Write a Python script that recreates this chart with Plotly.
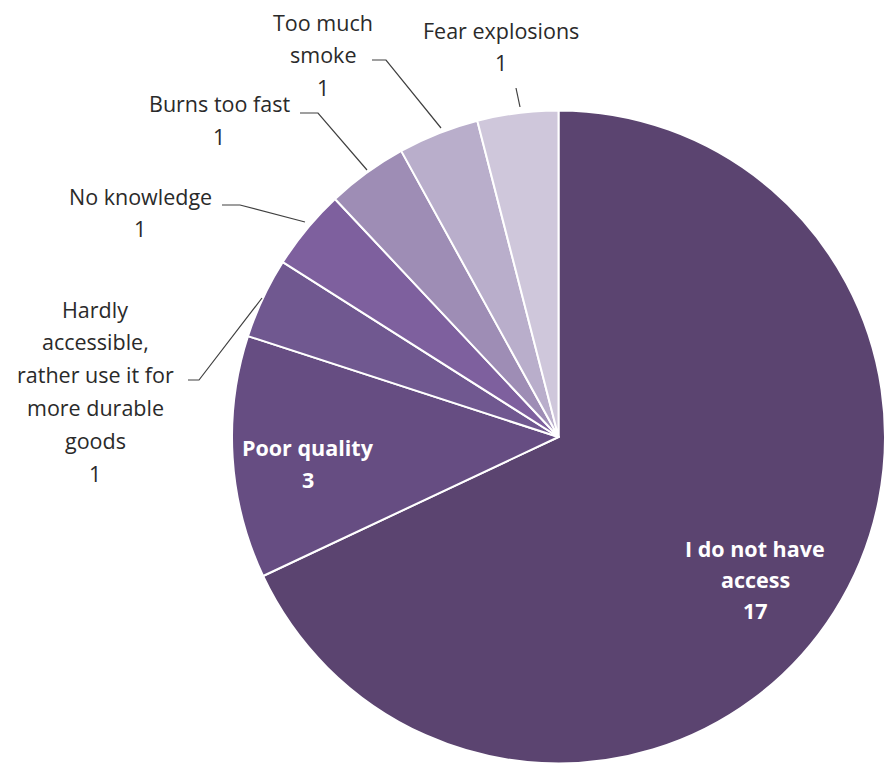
import plotly.graph_objects as go

W, H = 885, 767

categories = ["I do not have access", "Poor quality",
              "Hardly accessible, rather use it for more durable goods",
              "No knowledge", "Burns too fast", "Too much smoke", "Fear explosions"]
values = [17, 3, 1, 1, 1, 1, 1]
colors = ["#5B4470", "#664D82", "#705890", "#7E609E", "#9E8DB5", "#B9AECB", "#CFC7DB"]

fig = go.Figure(go.Pie(
    labels=categories, values=values, sort=False, direction="clockwise", rotation=0,
    marker=dict(colors=colors, line=dict(color="white", width=2)),
    textinfo="none", hoverinfo="label+value", showlegend=False,
    domain=dict(x=[232 / W, 1.0], y=[0.0, 660 / H]),
))

def px(x): return x / W
def py(y): return 1 - y / H

def label(lines, cx, y0, step=32.5, color="#2a2a2a", bold=False, size=21.5):
    for i, t in enumerate(lines):
        txt = f"<b>{t}</b>" if bold else t
        fig.add_annotation(x=px(cx), y=py(y0 + i * step), xref="paper", yref="paper",
                           text=txt, showarrow=False, xanchor="center", yanchor="middle",
                           font=dict(family="Open Sans, sans-serif", size=size, color=color))

label(["Fear explosions", str(values[6])], 501, 30)
label(["Too much", "smoke", str(values[5])], 323, 22)
label(["Burns too fast", str(values[4])], 219, 104)
label(["No knowledge", str(values[3])], 140, 196)
label(["Hardly", "accessible,", "rather use it for", "more durable", "goods", str(values[2])], 95, 309, step=32.8)
label(["Poor quality", str(values[1])], 308, 447, step=32, color="white", bold=True)
label(["I do not have", "access", str(values[0])], 755, 548, step=31, color="white", bold=True)

def leader(pts):
    path = "M " + " L ".join(f"{px(x)} {py(y)}" for x, y in pts)
    fig.add_shape(type="path", path=path, xref="paper", yref="paper",
                  line=dict(color="#404040", width=1.2))

leader([(520, 107), (516, 88)])
leader([(441, 128), (386, 60), (372, 60)])
leader([(367, 170), (318, 113), (300, 113)])
leader([(305, 222), (240, 205), (222, 205)])
leader([(262, 298), (199, 380), (188, 380)])

fig.update_layout(width=W, height=H, margin=dict(l=0, r=0, t=0, b=0),
                  paper_bgcolor="white", plot_bgcolor="white")
fig.write_html("out.html")
